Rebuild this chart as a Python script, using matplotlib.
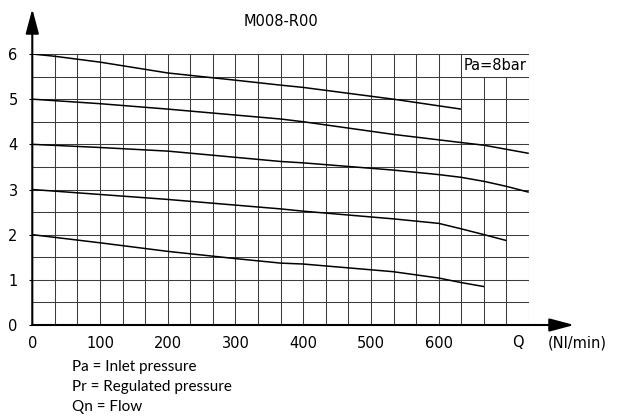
import numpy as np
import matplotlib
matplotlib.use("Agg")
import matplotlib.pyplot as plt
from matplotlib.patches import Rectangle

# flow Q (Nl/min) vs regulated pressure Pr (bar), inlet Pa = 8 bar
q6 = [0, 33, 100, 200, 300, 367, 400, 533, 633]
p6 = [6.0, 5.95, 5.82, 5.58, 5.42, 5.31, 5.26, 5.0, 4.78]
q5 = [0, 100, 200, 367, 400, 533, 633, 667, 733]
p5 = [5.0, 4.90, 4.78, 4.56, 4.50, 4.22, 4.04, 3.98, 3.80]
q4 = [0, 100, 200, 367, 400, 533, 600, 633, 667, 700, 733]
p4 = [4.0, 3.93, 3.85, 3.62, 3.59, 3.43, 3.33, 3.27, 3.18, 3.07, 2.94]
q3 = [0, 100, 200, 367, 400, 533, 580, 600, 633, 667, 700]
p3 = [3.0, 2.89, 2.78, 2.57, 2.52, 2.35, 2.28, 2.25, 2.13, 2.0, 1.87]
q2 = [0, 100, 200, 300, 367, 400, 533, 600, 633, 667]
p2 = [2.0, 1.82, 1.63, 1.47, 1.37, 1.35, 1.18, 1.04, 0.94, 0.85]
curves = [(q6, p6), (q5, p5), (q4, p4), (q3, p3), (q2, p2)]

x_ticks = [0, 100, 200, 300, 400, 500, 600]
y_ticks = [0, 1, 2, 3, 4, 5, 6]
notes = ["Pa = Inlet pressure", "Pr = Regulated pressure", "Qn = Flow"]

W, H = 621, 417
XMAX, YMAX = 2200 / 3, 6
fig = plt.figure(figsize=(W / 100, H / 100), dpi=100)
fig.patch.set_facecolor("white")
ax = fig.add_axes([32.3 / W, (H - 325) / H, (529 - 32.3) / W, (325 - 54) / H])
ax.set_xlim(0, XMAX); ax.set_ylim(0, YMAX)
for s in ax.spines.values():
    s.set_visible(False)
ax.patch.set_alpha(0)

# grid: every 33.3 Nl/min and every 0.5 bar
GRID = "#3c3c3c"
ax.vlines(np.arange(1, 23) * 100 / 3, 0, YMAX, color=GRID, lw=0.75, zorder=1)
ax.hlines(np.arange(1, 13) * 0.5, 0, XMAX, color=GRID, lw=0.75, zorder=1)
ax.add_patch(Rectangle((1900 / 3, 5.5), 100, 0.5, facecolor="white",
                       edgecolor=GRID, lw=0.75, zorder=2))
ax.text(2050 / 3, 5.75, "Pa=8bar", ha="center", va="center", fontsize=10.5, zorder=3)

for q, p in curves:
    ax.plot(q, p, color="black", lw=1.1, zorder=4, solid_capstyle="butt")

# axes with arrows
arw = dict(arrowstyle="-|>,head_length=15,head_width=4", mutation_scale=1,
           color="black", lw=1.5, shrinkA=0, shrinkB=0)
ax.annotate("", xy=(0, 7.0), xytext=(0, 0), arrowprops=arw, annotation_clip=False, zorder=5)
ax.annotate("", xy=(800, 0), xytext=(0, 0), arrowprops=arw, annotation_clip=False, zorder=5)

ax.set_xticks(x_ticks); ax.set_yticks(y_ticks)
ax.tick_params(axis="x", length=0, pad=8, labelsize=10.5)
ax.tick_params(axis="y", length=2.5, width=0.8, pad=8, labelsize=10.5)
ax.text(717, -0.39, "Q", ha="center", va="center", fontsize=10.5)
ax.text(805, -0.39, "(Nl/min)", ha="center", va="center", fontsize=10.5)
ax.text(366.7, 6.72, "M008-R00", ha="center", va="center", fontsize=10.5)

for i, t in enumerate(notes):
    fig.text(72 / W, 1 - (367.5 + 19.5 * i) / H, t, ha="left", va="center",
             fontsize=11, family="Lato")

fig.savefig("out.png", dpi=100)
